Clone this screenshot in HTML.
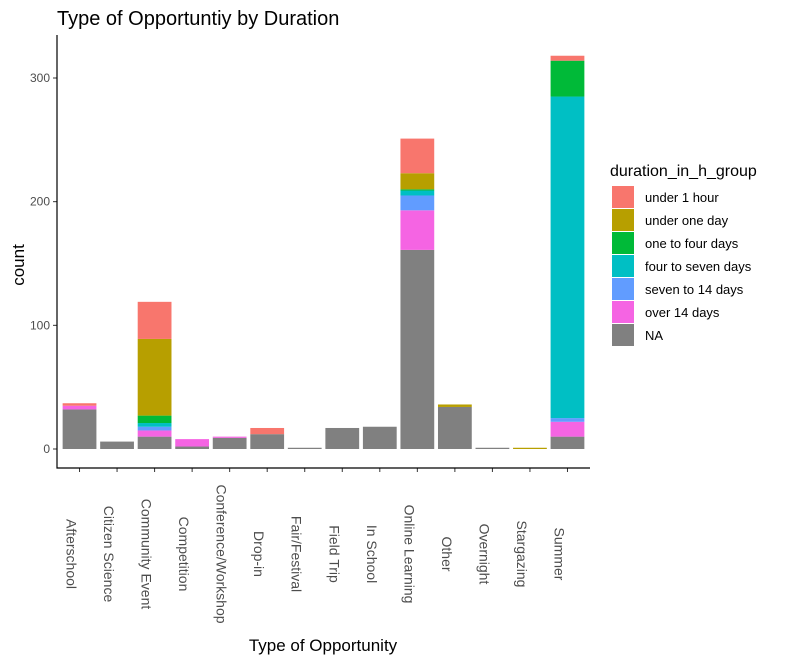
<!DOCTYPE html>
<html><head><meta charset="utf-8"><style>
body{margin:0;background:#fff;}
svg text{font-family:"Liberation Sans",Arial,sans-serif;}
</style></head><body>
<svg id="chart" width="800" height="662" xmlns="http://www.w3.org/2000/svg">
<text x="57" y="25" font-size="20" fill="#000">Type of Opportuntiy by Duration</text>
<g id="plot"></g>
<g id="legend"></g>
<text transform="translate(24,265) rotate(-90)" text-anchor="middle" font-size="17" fill="#000">count</text>
<text x="323" y="651" text-anchor="middle" font-size="17" fill="#000">Type of Opportunity</text>
</svg>
<script>
const categories=["Afterschool","Citizen Science","Community Event","Competition","Conference/Workshop","Drop-in","Fair/Festival","Field Trip","In School","Online Learning","Other","Overnight","Stargazing","Summer"];
const groups=["under 1 hour","under one day","one to four days","four to seven days","seven to 14 days","over 14 days","NA"];
const colors=["#F8766D","#B79F00","#00BA38","#00BFC4","#619CFF","#F564E3","#808080"];
const vUnder1h=[2,0,30,0,0,5,0,0,0,28,0,0,0,4];
const vUnderDay=[0,0,62,0,0,0,0,0,0,13,2,0,1,0];
const vOneFour=[0,0,6,0,0,0,0,0,0,1,0,0,0,29];
const vFourSeven=[0,0,3,0,0,0,0,0,0,4,0,0,0,260];
const vSeven14=[0,0,3,0,0,0,0,0,0,12,0,0,0,3];
const vOver14=[3,0,5,6,1,0,0,0,0,32,0,0,0,12];
const vNA=[32,6,10,2,9,12,1,17,18,161,34,1,0,10];
const series=[vUnder1h,vUnderDay,vOneFour,vFourSeven,vSeven14,vOver14,vNA];
const yTicks=[0,100,200,300];

const NS="http://www.w3.org/2000/svg";
const L=57,R=590,T=35,B=468;
const y0=449,pxPer=(449-78)/300;
const ys=v=>y0-v*pxPer;
const step=(R-L)/(categories.length-1+1.2);
const xs=i=>L+step*(0.6+i);
const bw=step*0.9;
function mk(t,a,p){const e=document.createElementNS(NS,t);for(const k in a)e.setAttribute(k,a[k]);(p||plot).appendChild(e);return e;}
const plot=document.getElementById('plot');
const legend=document.getElementById('legend');
categories.forEach((c,i)=>{
  let cum=0;
  for(let g=series.length-1;g>=0;g--){
    const v=series[g][i]; if(!v)continue;
    const r=mk('rect',{x:xs(i)-bw/2,y:ys(cum+v),width:bw,height:v*pxPer,fill:colors[g]});
    
    
    cum+=v;
  }
  const tk=mk('line',{x1:xs(i),x2:xs(i),y1:B,y2:B+4,stroke:'#333','stroke-width':1});
  
  
  const t=mk('text',{transform:`translate(${xs(i)-13},554) rotate(90)`,'text-anchor':'middle','font-size':14,fill:'#4d4d4d'});
  
  
  t.textContent=c;
});
yTicks.forEach(v=>{
  const tk=mk('line',{x1:L-4,x2:L,y1:ys(v),y2:ys(v),stroke:'#333','stroke-width':1});
  
  
  const t=mk('text',{x:L-7,y:ys(v)+4,'text-anchor':'end','font-size':12,fill:'#4d4d4d'});
  
  
  t.textContent=v;
});
const ax=mk('path',{d:`M${L},${T} V${B} H${R}`,fill:'none',stroke:'#000','stroke-width':1.2});


const lt=mk('text',{x:610,y:176,'font-size':16,fill:'#000'},legend);


lt.textContent='duration_in_h_group';
groups.forEach((g,k)=>{
  const y=186+k*23;
  const r=mk('rect',{x:612,y:y,width:22,height:22,fill:colors[k]},legend);
  
  
  const t=mk('text',{x:645,y:y+16,'font-size':13,fill:'#000'},legend);
  
  
  t.textContent=g;
});
</script>
</body></html>
